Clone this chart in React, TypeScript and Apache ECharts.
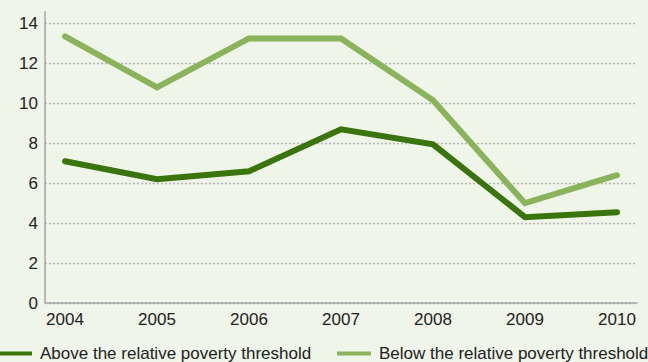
import React, { useEffect, useRef } from "react";
import * as echarts from "echarts";

const years = [2004, 2005, 2006, 2007, 2008, 2009, 2010];
const aboveThreshold = [7.1, 6.2, 6.6, 8.7, 7.95, 4.3, 4.55];
const belowThreshold = [13.35, 10.8, 13.25, 13.25, 10.15, 5.0, 6.4];
const seriesNames = ["Above the relative poverty threshold", "Below the relative poverty threshold"];

export default function App() {
  const ref = useRef<HTMLDivElement>(null);
  useEffect(() => {
    document.body.style.margin = "0";
    const chart = echarts.init(ref.current!, null, { renderer: "svg" });
    const font = "'Liberation Sans', Arial, Helvetica, sans-serif";
    const legendBase = {
      bottom: 0,
      orient: "horizontal",
      icon: "rect",
      itemWidth: 34,
      itemHeight: 4,
      width: 400,
      padding: 0,
      textStyle: { fontSize: 17, color: "#222", fontFamily: font, padding: [0, 0, 0, 3] },
    };
    chart.setOption({
      animation: false,
      backgroundColor: "#eff5e9",
      textStyle: { fontFamily: font },
      grid: { left: 45, right: 11, top: 23.5, bottom: 59 },
      legend: [
        { ...legendBase, left: -2, data: [seriesNames[0]] },
        { ...legendBase, left: 337, data: [seriesNames[1]] },
      ],
      xAxis: {
        type: "value",
        min: 2004 - 20 / 92,
        max: 2010 + 20 / 92,
        axisLine: { show: true, lineStyle: { color: "#a5a5a5", width: 1.5 } },
        axisTick: { show: false },
        splitLine: { show: false },
        axisLabel: {
          customValues: years,
          formatter: (v: number) => String(Math.round(v)),
          fontSize: 17,
          color: "#222",
          margin: 8,
        },
      },
      yAxis: {
        type: "value",
        min: 0,
        max: 14,
        interval: 2,
        axisLine: { show: false },
        axisTick: { show: false },
        axisLabel: { fontSize: 17, color: "#222", margin: 7 },
        splitLine: { lineStyle: { color: "#b3b3b3", type: [2, 2], width: 1.3 } },
      },
      graphic: [
        {
          type: "line",
          shape: { x1: 45, y1: 11, x2: 45, y2: 303 },
          style: { stroke: "#a5a5a5", lineWidth: 1.5 },
          z: 5,
        },
      ],
      series: [
        {
          name: seriesNames[0],
          type: "line",
          data: years.map((y, i) => [y, aboveThreshold[i]]),
          symbol: "none",
          color: "#3a740c",
          lineStyle: { width: 6, color: "#3a740c", cap: "round", join: "miter" },
          z: 3,
        },
        {
          name: seriesNames[1],
          type: "line",
          data: years.map((y, i) => [y, belowThreshold[i]]),
          symbol: "none",
          color: "#8ab35c",
          lineStyle: { width: 6, color: "#8ab35c", cap: "round", join: "miter" },
          z: 2,
        },
      ],
    });
    return () => chart.dispose();
  }, []);
  return <div ref={ref} style={{ width: 648, height: 362, position: "absolute", left: 0, top: 0 }} />;
}
